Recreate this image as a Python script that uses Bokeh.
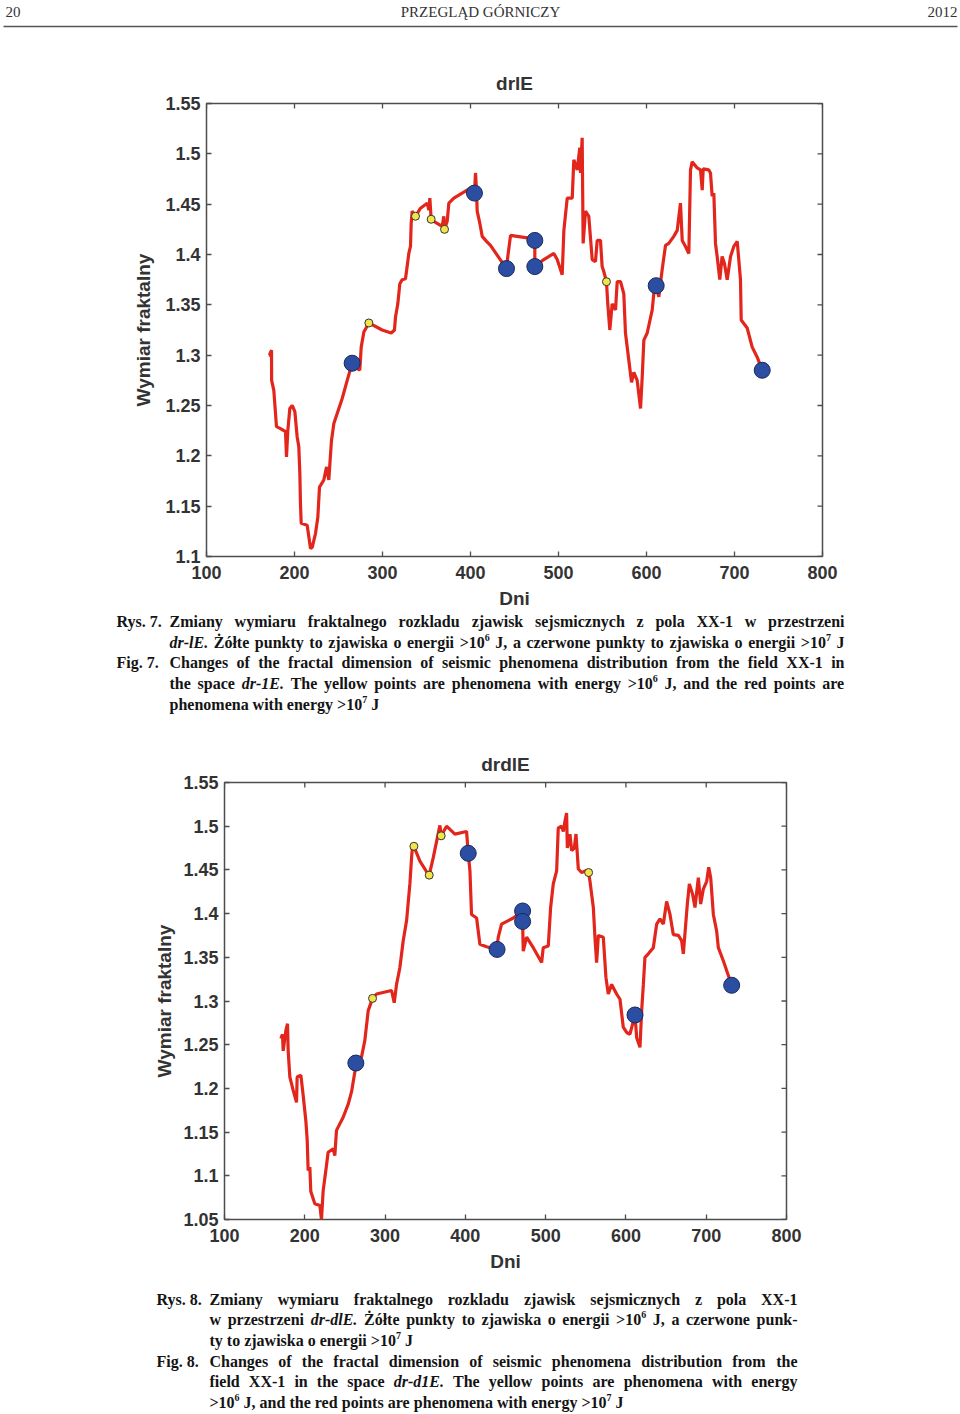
import math
from bokeh.plotting import figure
from bokeh.models import (Range1d, FixedTicker, CustomJSTickFormatter, ColumnDataSource)
from bokeh.core.properties import value
from bokeh.embed import file_html
from bokeh.resources import INLINE

# ---------------- data ----------------
x_tick_labels = ["100", "200", "300", "400", "500", "600", "700", "800"]
y_tick_labels1 = ["1.1", "1.15", "1.2", "1.25", "1.3", "1.35", "1.4", "1.45", "1.5", "1.55"]
y_tick_labels2 = ["1.05", "1.1", "1.15", "1.2", "1.25", "1.3", "1.35", "1.4", "1.45", "1.5", "1.55"]

days1 = [170.8, 171.5, 173.9, 174.0, 176.5, 179.5, 184.1, 189.8, 190.9, 192.4, 194.7, 197.4, 200.4,
         203.0, 204.9, 206.1, 206.8, 207.6, 214.4, 218.2, 220.1, 223.9, 226.5, 228.4, 233.3, 236.4,
         239.0, 240.2, 242.0, 244.7, 248.5, 254.2, 259.9, 265.5, 269.3, 274.2, 275.8, 278.8, 284.5,
         299.6, 309.9, 313.6, 314.8, 317.4, 319.7, 322.4, 326.1, 328.0, 329.9, 331.8, 332.6, 333.7,
         337.5, 343.2, 350.8, 352.7, 353.8, 355.3, 358.3, 367.8, 369.7, 370.5, 373.5, 375.4, 381.1,
         392.4, 400.0, 404.5, 405.7, 406.8, 407.6, 410.6, 413.3, 418.2, 422.7, 440.9, 442.4, 445.5,
         468.2, 473.1, 473.1, 483.3, 494.7, 498.5, 504.2, 506.1, 509.9, 515.6, 517.4, 521.3, 524.2,
         525.0, 526.9, 528.0, 530.7, 534.4, 538.3, 542.0, 544.0, 547.7, 549.6, 551.5, 554.5, 556.0,
         558.3, 561.0, 564.8, 566.7, 570.5, 574.2, 576.1, 579.9, 583.0, 585.6, 589.4, 593.2, 595.1,
         597.0, 600.8, 606.5, 609.1, 611.0, 614.0, 617.8, 621.6, 625.3, 631.0, 634.9, 638.6, 640.6,
         644.3, 648.1, 650.0, 651.9, 657.6, 661.4, 663.3, 664.4, 670.8, 672.7, 674.6, 676.5, 678.4,
         680.3, 683.3, 685.9, 688.6, 691.7, 695.5, 699.2, 703.1, 706.8, 707.6, 714.4, 720.1, 725.8,
         731.5]
frac1 = [1.300, 1.300, 1.305, 1.275, 1.265, 1.229, 1.227, 1.224, 1.199, 1.225, 1.247, 1.250, 1.244,
         1.219, 1.209, 1.182, 1.152, 1.133, 1.131, 1.108, 1.109, 1.123, 1.139, 1.169, 1.176, 1.189,
         1.176, 1.192, 1.215, 1.232, 1.242, 1.257, 1.275, 1.292, 1.288, 1.285, 1.308, 1.323, 1.332,
         1.325, 1.322, 1.325, 1.338, 1.351, 1.371, 1.375, 1.376, 1.388, 1.401, 1.408, 1.431, 1.443,
         1.438, 1.446, 1.451, 1.444, 1.456, 1.435, 1.433, 1.428, 1.438, 1.425, 1.433, 1.451, 1.456,
         1.462, 1.466, 1.461, 1.481, 1.464, 1.443, 1.431, 1.418, 1.413, 1.409, 1.386, 1.398, 1.419,
         1.416, 1.414, 1.388, 1.395, 1.401, 1.395, 1.380, 1.424, 1.456, 1.456, 1.494, 1.484, 1.506,
         1.481, 1.516, 1.411, 1.443, 1.438, 1.395, 1.393, 1.414, 1.414, 1.388, 1.383, 1.373, 1.351,
         1.325, 1.351, 1.345, 1.373, 1.373, 1.361, 1.322, 1.295, 1.273, 1.283, 1.275, 1.247, 1.278,
         1.315, 1.322, 1.345, 1.368, 1.369, 1.358, 1.385, 1.409, 1.411, 1.418, 1.424, 1.451, 1.414,
         1.408, 1.401, 1.484, 1.492, 1.486, 1.484, 1.464, 1.485, 1.484, 1.481, 1.458, 1.461, 1.411,
         1.398, 1.375, 1.398, 1.391, 1.375, 1.398, 1.408, 1.413, 1.375, 1.335, 1.327, 1.308, 1.298,
         1.285]
big_days1 = [265.5, 404.5, 440.9, 473.1, 473.1, 611.0, 731.5]
big_vals1 = [1.292, 1.461, 1.386, 1.414, 1.388, 1.369, 1.285]
small_days1 = [284.5, 337.5, 355.3, 370.5, 554.5]
small_vals1 = [1.332, 1.438, 1.435, 1.425, 1.373]

days2 = [170.2, 172.2, 173.1, 176.4, 178.5, 179.3, 181.4, 185.5, 189.7, 190.5, 195.1, 198.0, 201.3,
         203.0, 204.2, 206.3, 207.5, 212.5, 218.8, 220.8, 222.9, 226.2, 229.1, 235.4, 237.4, 239.5,
         242.8, 247.8, 254.1, 258.2, 262.4, 263.6, 270.7, 274.8, 279.0, 284.4, 289.4, 308.1, 311.4,
         314.3, 318.4, 322.6, 326.8, 330.9, 333.0, 334.2, 335.9, 343.4, 353.7, 355.0, 360.0, 368.3,
         369.9, 376.6, 387.0, 401.5, 403.6, 405.7, 407.7, 414.0, 418.1, 426.4, 438.9, 441.0, 445.1,
         459.7,
         471.3, 471.3, 472.1, 476.3, 484.6, 495.0, 497.0, 503.3, 506.2, 509.5, 513.7, 515.7, 519.9,
         522.0, 524.1, 526.1, 527.0, 530.3, 532.4, 535.7, 537.8, 540.7, 544.8, 550.2, 553.5, 555.2,
         559.4, 561.4, 563.5, 565.6, 571.8, 575.1, 578.0, 582.2, 588.4, 592.6, 596.7, 600.9, 605.0,
         611.3, 613.4, 617.5, 619.6, 621.7, 623.7, 627.9, 634.1, 638.3, 642.4, 646.6, 650.7, 654.9,
         659.0, 665.3, 669.4, 671.5, 673.6, 676.5, 679.0, 683.1, 686.0, 690.2, 693.1, 696.4, 700.6,
         703.1, 705.6, 708.9, 713.0, 715.1, 721.3, 731.7]
frac2 = [1.257, 1.262, 1.243, 1.266, 1.274, 1.243, 1.213, 1.198, 1.184, 1.213, 1.215, 1.192, 1.163,
         1.141, 1.106, 1.110, 1.082, 1.068, 1.066, 1.050, 1.083, 1.106, 1.127, 1.131, 1.123, 1.152,
         1.158, 1.167, 1.182, 1.196, 1.219, 1.229, 1.236, 1.255, 1.289, 1.303, 1.308, 1.312, 1.298,
         1.319, 1.338, 1.369, 1.392, 1.434, 1.464, 1.477, 1.477, 1.460, 1.445, 1.444, 1.464, 1.501,
         1.489, 1.500, 1.491, 1.494, 1.469, 1.449, 1.399, 1.395, 1.365, 1.362, 1.359, 1.373, 1.388,
         1.395,
         1.403, 1.391, 1.357, 1.373, 1.361, 1.344, 1.361, 1.363, 1.407, 1.434, 1.449, 1.498, 1.500,
         1.494, 1.506, 1.515, 1.475, 1.491, 1.472, 1.475, 1.491, 1.451, 1.447, 1.449, 1.447, 1.437,
         1.407, 1.373, 1.344, 1.375, 1.373, 1.327, 1.308, 1.319, 1.308, 1.302, 1.270, 1.264, 1.262,
         1.284, 1.258, 1.247, 1.289, 1.319, 1.350, 1.354, 1.361, 1.388, 1.394, 1.388, 1.414, 1.399,
         1.376, 1.375, 1.369, 1.354, 1.378, 1.411, 1.434, 1.422, 1.407, 1.441, 1.411, 1.428, 1.437,
         1.453, 1.441, 1.399, 1.380, 1.361, 1.346, 1.318]
big_days2 = [263.6, 403.6, 439.5, 471.3, 471.3, 611.3, 731.7]
big_vals2 = [1.229, 1.469, 1.359, 1.403, 1.391, 1.284, 1.318]
small_days2 = [284.4, 335.9, 355.0, 369.9, 553.5]
small_vals2 = [1.303, 1.477, 1.444, 1.489, 1.447]

header_left, header_center, header_right = "20", "PRZEGLĄD GÓRNICZY", "2012"

caption1 = [
    ("Rys. 7.", "Zmiany wymiaru fraktalnego rozkladu zjawisk sejsmicznych z pola XX-1 w przestrzeni", True),
    (None, "_dr-lE._ Żółte punkty to zjawiska o energii >10^6 J, a czerwone punkty to zjawiska o energii >10^7 J", True),
    ("Fig. 7.", "Changes of the fractal dimension of seismic phenomena distribution from the field XX-1 in", True),
    (None, "the space _dr-1E._ The yellow points are phenomena with energy >10^6 J, and the red points are", True),
    (None, "phenomena with energy >10^7 J", False),
]
caption2 = [
    ("Rys. 8.", "Zmiany wymiaru fraktalnego rozkladu zjawisk sejsmicznych z pola XX-1", True),
    (None, "w przestrzeni _dr-dlE._ Żółte punkty to zjawiska o energii >10^6 J, a czerwone punk-", True),
    (None, "ty to zjawiska o energii >10^7 J", False),
    ("Fig. 8.", "Changes of the fractal dimension of seismic phenomena distribution from the", True),
    (None, "field XX-1 in the space _dr-d1E._ The yellow points are phenomena with energy", True),
    (None, ">10^6 J, and the red points are phenomena with energy >10^7 J", False),
]

# ---------------- styles ----------------
PAGE_W = 960
RED = "#e3261c"
BLUE = "#2b4ea3"
BLUE_EDGE = "#18295c"
YELLOW = "#f1e54a"
AXC = "#4d4d4d"
TXT = "#333333"
SANS = "Liberation Sans"
SERIF = "Liberation Serif"

W = {' ': 250, 'a': 500, 'b': 556, 'c': 444, 'd': 556, 'e': 444, 'f': 333, 'g': 500, 'h': 556,
     'i': 278, 'j': 333, 'k': 556, 'l': 278, 'm': 833, 'n': 556, 'o': 500, 'p': 556, 'q': 556,
     'r': 444, 's': 389, 't': 333, 'u': 556, 'v': 500, 'w': 722, 'x': 500, 'y': 500, 'z': 444,
     'A': 722, 'B': 667, 'C': 722, 'D': 722, 'E': 667, 'F': 611, 'G': 778, 'H': 778, 'I': 389,
     'J': 500, 'K': 778, 'L': 667, 'M': 944, 'N': 722, 'O': 778, 'P': 611, 'Q': 778, 'R': 722,
     'S': 556, 'T': 667, 'U': 722, 'V': 722, 'W': 1000, 'X': 722, 'Y': 722, 'Z': 667,
     '.': 250, ',': 250, '-': 333, '>': 570, 'Ż': 667, 'ó': 500, 'ł': 278}
WI = {'d': 500, 'r': 389}
FS = 16
SUP = 10


def seg_width(t, k):
    size = SUP if k == "sup" else FS
    tot = 0
    for ch in t:
        if k == "bi" and ch in WI:
            tot += WI[ch]
        elif ch.isdigit():
            tot += 500
        else:
            tot += W.get(ch, 500)
    return tot / 1000.0 * size


def parse_word(w):
    segs, cur, italic, i = [], "", False, 0
    while i < len(w):
        c = w[i]
        if c == "_":
            if cur:
                segs.append((cur, "bi" if italic else "b"))
                cur = ""
            italic = not italic
        elif c == "^":
            if cur:
                segs.append((cur, "bi" if italic else "b"))
                cur = ""
            segs.append((w[i + 1], "sup"))
            i += 1
        else:
            cur += c
        i += 1
    if cur:
        segs.append((cur, "bi" if italic else "b"))
    return segs


def caption_fig(height, lines, label_x, x0, x1, ys):
    store = {k: {"x": [], "y": [], "text": []} for k in ("b", "bi", "sup")}
    for (lab, body, justify), y in zip(lines, ys):
        if lab:
            store["b"]["x"].append(label_x)
            store["b"]["y"].append(y)
            store["b"]["text"].append(lab)
        words = body.split(" ")
        parsed = [parse_word(w) for w in words]
        widths = [sum(seg_width(t, k) for t, k in s) for s in parsed]
        if justify and len(words) > 1:
            gap = (x1 - x0 - sum(widths)) / (len(words) - 1)
        else:
            gap = 0.25 * FS
        x = x0
        for segs, wd in zip(parsed, widths):
            xx = x
            for t, k in segs:
                store[k]["x"].append(xx)
                store[k]["y"].append(y - 5 if k == "sup" else y)
                store[k]["text"].append(t)
                xx += seg_width(t, k)
            x += wd + gap
    p = figure(width=PAGE_W, height=height, x_range=Range1d(0, PAGE_W), y_range=Range1d(height, 0),
               x_axis_type=None, y_axis_type=None, toolbar_location=None, output_backend="svg",
               min_border=0)
    p.outline_line_color = None
    styles = {"b": ("bold", f"{FS}px"), "bi": ("bold italic", f"{FS}px"), "sup": ("bold", f"{SUP}px")}
    for k, (st, sz) in styles.items():
        p.text(x="x", y="y", text="text", source=ColumnDataSource(store[k]),
               text_font=value(SERIF), text_font_style=st, text_font_size=sz,
               text_baseline="middle", text_align="left", text_color="#141414")
    return p


def style_axis(ax):
    ax.major_tick_in = 5
    ax.major_tick_out = 0
    ax.minor_tick_in = 0
    ax.minor_tick_out = 0
    ax.major_tick_line_color = AXC
    ax.major_tick_line_width = 1.3
    ax.axis_line_color = None
    ax.major_label_text_font = SANS
    ax.major_label_text_font_style = "bold"
    ax.major_label_text_font_size = "18px"
    ax.major_label_text_color = TXT
    ax.axis_label_text_font = SANS
    ax.axis_label_text_font_style = "bold"
    ax.axis_label_text_font_size = "19px"
    ax.axis_label_text_color = TXT


def chart(height, fl, fr, ft, fb, ylo, ylabels, title, title_standoff, xlab_standoff, ylab_standoff,
          xs, ys, bx, by, sx, sy):
    p = figure(width=PAGE_W, height=height, x_range=Range1d(100, 800), y_range=Range1d(ylo, 1.55),
               output_backend="svg", toolbar_location=None, title=title,
               x_axis_label="Dni", y_axis_label="Wymiar fraktalny",
               min_border_left=fl, min_border_right=PAGE_W - fr,
               min_border_top=ft, min_border_bottom=height - fb)
    p.grid.visible = False
    p.outline_line_color = AXC
    p.outline_line_width = 1.5
    p.title.align = "center"
    p.title.text_font = SANS
    p.title.text_font_style = "bold"
    p.title.text_font_size = "19px"
    p.title.text_color = TXT
    p.title.standoff = title_standoff
    xt = [float(s) for s in x_tick_labels]
    yt = [float(s) for s in ylabels]
    code = "return String(Math.round(tick*100)/100);"
    xa = p.xaxis[0]
    ya = p.yaxis[0]
    xa.ticker = FixedTicker(ticks=xt)
    ya.ticker = FixedTicker(ticks=yt)
    xa.formatter = CustomJSTickFormatter(code=code)
    ya.formatter = CustomJSTickFormatter(code=code)
    style_axis(xa)
    style_axis(ya)
    xa.major_label_standoff = 9
    ya.major_label_standoff = 6
    xa.axis_label_standoff = xlab_standoff
    ya.axis_label_standoff = ylab_standoff

    # inward ticks on the top and right edges of the box (clipped to the frame)
    p.scatter(xt, [1.55] * len(xt), marker="dash", angle=math.pi / 2, size=10,
              line_color=AXC, line_width=1.3)
    p.scatter([800] * len(yt), yt, marker="dash", size=10, line_color=AXC, line_width=1.3)

    p.line(xs, ys, line_color=RED, line_width=3.2)
    p.scatter(bx, by, size=16, marker="circle", fill_color=BLUE, line_color=BLUE_EDGE, line_width=1)
    p.scatter(sx, sy, size=8, marker="circle", fill_color=YELLOW, line_color="#333333", line_width=1)
    return p


# header
hdr = figure(width=PAGE_W, height=32, x_range=Range1d(0, PAGE_W), y_range=Range1d(32, 0),
             x_axis_type=None, y_axis_type=None, toolbar_location=None, output_backend="svg",
             min_border=0)
hdr.outline_line_color = None
for txt, xx, al in ((header_left, 5, "left"), (header_center, PAGE_W / 2, "center"),
                    (header_right, 957, "right")):
    hdr.text(x=[xx], y=[11], text=[txt], text_align=al, text_baseline="middle",
             text_font=value(SERIF), text_font_size="15px", text_color="#333333")
hdr.segment(x0=[3], y0=[26], x1=[957], y1=[26], line_color="#555555", line_width=1.5)

c1 = chart(582, 206, 822, 71, 524, 1.1, y_tick_labels1, "drlE", 20, 6, 8,
           days1, frac1, big_days1, big_vals1, small_days1, small_vals1)
cap1 = caption_fig(122, caption1, 116, 169, 844, [7, 28, 48, 69, 90])
c2 = chart(552, 224, 786, 46, 483, 1.05, y_tick_labels2, "drdlE", 16, 6, 5,
           days2, frac2, big_days2, big_vals2, small_days2, small_vals2)
cap2 = caption_fig(126, caption2, 156, 209, 797, [11, 31, 52, 73, 93, 114])

roots = [hdr, c1, cap1, c2, cap2]
open("out.html", "w").write(file_html(roots, INLINE))
